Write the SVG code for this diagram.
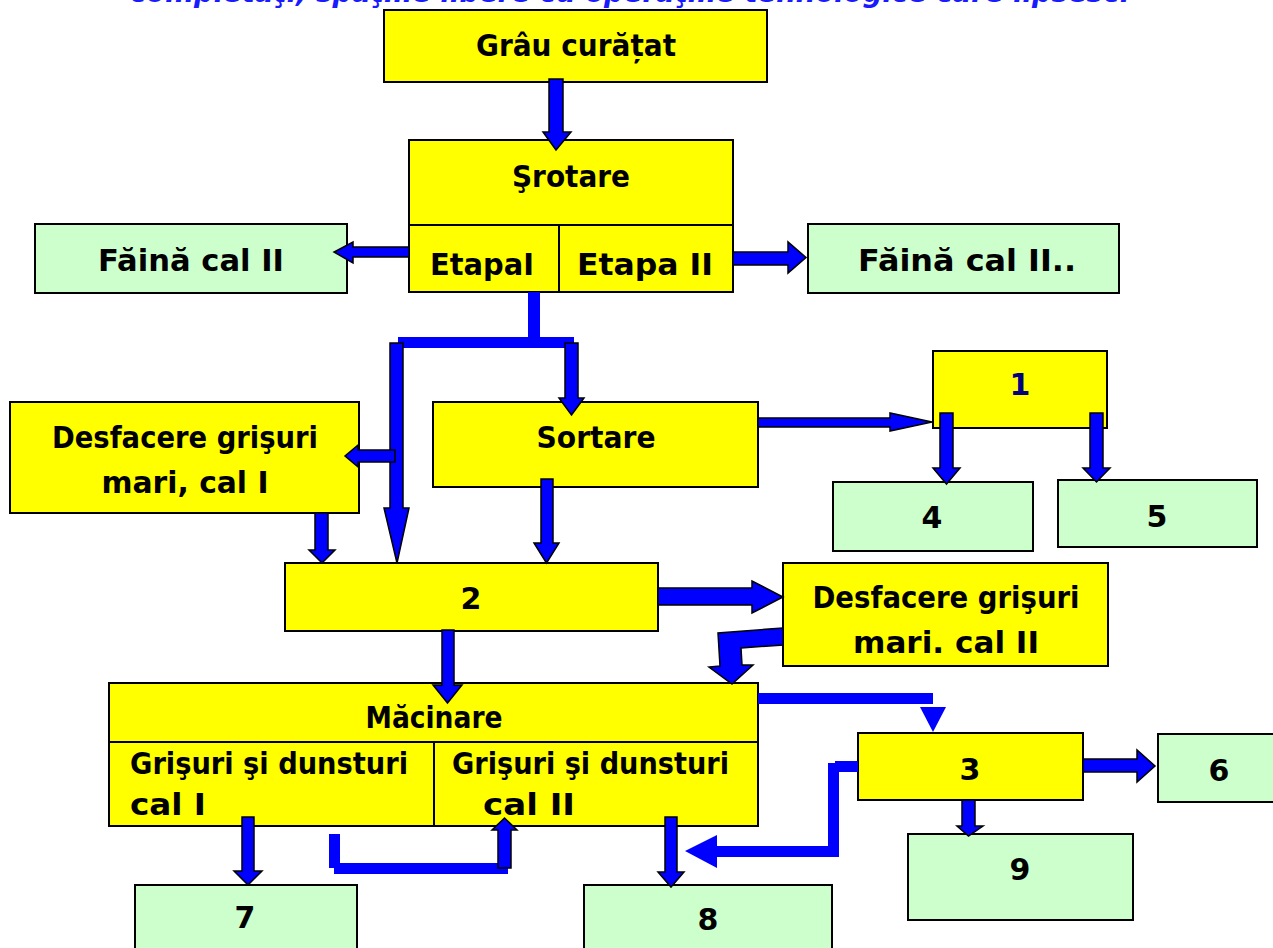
<svg xmlns="http://www.w3.org/2000/svg" width="1273" height="948" viewBox="0 0 1273 948">
  <style>
    .proc { fill: #FFFF00; stroke: #000; stroke-width: 2; }
    .prod { fill: #CCFFCC; stroke: #000; stroke-width: 2; }
    .div { stroke: #000; stroke-width: 2; fill: none; }
    .lbl { font-family: "Comic Sans MS", "DejaVu Sans", sans-serif; font-weight: bold; font-size: 30px; fill: #000; }
    .mid { text-anchor: middle; }
    .arr { fill: #0000FF; stroke: #000; stroke-width: 1.5; stroke-linejoin: miter; }
    .bar { fill: #0000FF; stroke: none; }
    .head { font-family: "Comic Sans MS", "DejaVu Sans", sans-serif; font-weight: bold; font-style: italic; font-size: 28px; fill: #1A1AFF; }
  </style>

  <rect width="1273" height="948" fill="#FFFFFF"/>

  <!-- heading line, mostly above the page edge -->
  <text class="head" x="130" y="2" textLength="1000" lengthAdjust="spacingAndGlyphs">completaţi, spaţiile libere cu operaţiile tehnologice care lipsesc.</text>

  <g id="grau">
    <rect class="proc" x="384" y="10" width="383" height="72"/>
    <text class="lbl mid" x="576" y="56" textLength="200" lengthAdjust="spacingAndGlyphs">Grâu curățat</text>
  </g>

  <g id="srotare">
    <rect class="proc" x="409" y="140" width="324" height="152"/>
    <line class="div" x1="409" y1="225" x2="733" y2="225"/>
    <line class="div" x1="559" y1="225" x2="559" y2="292"/>
    <text class="lbl mid" x="571" y="187" textLength="118" lengthAdjust="spacingAndGlyphs">Şrotare</text>
    <text class="lbl mid" x="482" y="275" textLength="104" lengthAdjust="spacingAndGlyphs">EtapaI</text>
    <text class="lbl mid" x="645" y="275" textLength="136" lengthAdjust="spacingAndGlyphs">Etapa II</text>
  </g>

  <g id="faina-left">
    <rect class="prod" x="35" y="224" width="312" height="69"/>
    <text class="lbl mid" x="191" y="271" textLength="186" lengthAdjust="spacingAndGlyphs">Făină cal II</text>
  </g>

  <g id="faina-right">
    <rect class="prod" x="808" y="224" width="311" height="69"/>
    <text class="lbl mid" x="967" y="271" textLength="218" lengthAdjust="spacingAndGlyphs">Făină cal II..</text>
  </g>

  <g id="desfacere-1">
    <rect class="proc" x="10" y="402" width="349" height="111"/>
    <text class="lbl mid" x="185" y="448" textLength="266" lengthAdjust="spacingAndGlyphs">Desfacere grişuri</text>
    <text class="lbl mid" x="185" y="493" textLength="167" lengthAdjust="spacingAndGlyphs">mari, cal I</text>
  </g>

  <g id="sortare">
    <rect class="proc" x="433" y="402" width="325" height="85"/>
    <text class="lbl mid" x="596" y="448" textLength="119" lengthAdjust="spacingAndGlyphs">Sortare</text>
  </g>

  <g id="n1">
    <rect class="proc" x="933" y="351" width="174" height="77"/>
    <text class="lbl mid" x="1020" y="395" style="fill:#000080">1</text>
  </g>

  <g id="n4">
    <rect class="prod" x="833" y="482" width="200" height="69"/>
    <text class="lbl mid" x="932" y="528">4</text>
  </g>

  <g id="n5">
    <rect class="prod" x="1058" y="480" width="199" height="67"/>
    <text class="lbl mid" x="1157" y="527">5</text>
  </g>

  <g id="n2">
    <rect class="proc" x="285" y="563" width="373" height="68"/>
    <text class="lbl mid" x="471" y="609">2</text>
  </g>

  <g id="desfacere-2">
    <rect class="proc" x="783" y="563" width="325" height="103"/>
    <text class="lbl mid" x="946" y="608" textLength="267" lengthAdjust="spacingAndGlyphs">Desfacere grişuri</text>
    <text class="lbl mid" x="946" y="653" textLength="186" lengthAdjust="spacingAndGlyphs">mari. cal II</text>
  </g>

  <g id="macinare">
    <rect class="proc" x="109" y="683" width="649" height="143"/>
    <line class="div" x1="109" y1="742" x2="758" y2="742"/>
    <line class="div" x1="434" y1="742" x2="434" y2="826"/>
    <text class="lbl mid" x="434" y="728" textLength="137" lengthAdjust="spacingAndGlyphs">Măcinare</text>
    <text class="lbl" x="130" y="774" textLength="278" lengthAdjust="spacingAndGlyphs">Grişuri şi dunsturi</text>
    <text class="lbl" x="130" y="815" textLength="76" lengthAdjust="spacingAndGlyphs">cal I</text>
    <text class="lbl" x="452" y="774" textLength="277" lengthAdjust="spacingAndGlyphs">Grişuri şi dunsturi</text>
    <text class="lbl" x="483" y="815" textLength="92" lengthAdjust="spacingAndGlyphs">cal II</text>
  </g>

  <g id="n3">
    <rect class="proc" x="858" y="733" width="225" height="67"/>
    <text class="lbl mid" x="970" y="780">3</text>
  </g>

  <g id="n6">
    <rect class="prod" x="1158" y="734" width="125" height="68"/>
    <text class="lbl mid" x="1219" y="781">6</text>
  </g>

  <g id="n9">
    <rect class="prod" x="908" y="834" width="225" height="86"/>
    <text class="lbl mid" x="1020" y="880">9</text>
  </g>

  <g id="n7">
    <rect class="prod" x="135" y="885" width="222" height="70"/>
    <text class="lbl mid" x="245" y="928">7</text>
  </g>

  <g id="n8">
    <rect class="prod" x="584" y="885" width="248" height="70"/>
    <text class="lbl mid" x="708" y="930">8</text>
  </g>

  <!-- connectors, drawn over the boxes -->
  <g id="connectors">
    <!-- Grâu curățat -> Șrotare -->
    <polygon class="arr" points="549,79 563,79 563,132 571,132 556,150 543,132 549,132"/>
    <!-- Șrotare -> Făină cal II (left) -->
    <polygon class="arr" points="409,247 409,257 353,257 353,263 334,252 353,242 353,247"/>
    <!-- Șrotare -> Făină cal II.. (right) -->
    <polygon class="arr" points="733,252 788,252 788,242 806,257.5 788,273 788,265 733,265"/>
    <!-- branch below Etapa I -->
    <rect class="bar" x="528" y="292" width="12" height="52"/>
    <rect class="bar" x="398" y="337" width="176" height="11"/>
    <!-- long drop to box 2 -->
    <polygon class="arr" points="390,343 403,343 403,508 409,508 397,563 384,508 390,508"/>
    <!-- side branch to Desfacere grişuri mari, cal I -->
    <polygon class="arr" points="395,450 395,462 358,462 358,467 345,456 358,445 358,450"/>
    <!-- drop to Sortare -->
    <polygon class="arr" points="565,343 578,343 578,398 584,398 571.5,415 559,398 565,398"/>
    <!-- Desfacere grişuri mari, cal I -> 2 -->
    <polygon class="arr" points="315,513 328,513 328,550 335,550 322,563 309,550 315,550"/>
    <!-- Sortare -> 2 -->
    <polygon class="arr" points="541,479 553,479 553,543 559,543 546.5,563 534,543 541,543"/>
    <!-- Sortare -> 1 -->
    <polygon class="arr" points="758,418 890,418 890,413 932,422 890,431 890,427 758,427"/>
    <!-- 1 -> 4 -->
    <polygon class="arr" points="940,413 953,413 953,468 960,468 946.5,484 933,468 940,468"/>
    <!-- 1 -> 5 -->
    <polygon class="arr" points="1090,413 1103,413 1103,468 1110,468 1096.5,482 1083,468 1090,468"/>
    <!-- 2 -> Desfacere grişuri mari. cal II -->
    <polygon class="arr" points="658,588 752,588 752,581 783,597 752,613 752,605 658,605"/>
    <!-- Desfacere grişuri mari. cal II -> Măcinare (bent) -->
    <polygon class="arr" points="783,628 718,633 720,666 709,667 732,684 753,665 742,665 741,648 783,645"/>
    <!-- 2 -> Măcinare -->
    <polygon class="arr" points="442,630 454,630 454,685 462,685 447.5,703 433,685 442,685"/>
    <!-- Măcinare -> 3 -->
    <rect class="bar" x="758" y="693" width="175" height="11"/>
    <polygon class="bar" points="920,707 946,707 933,732"/>
    <!-- 3 -> 6 -->
    <polygon class="arr" points="1083,759 1137,759 1137,750 1155,766 1137,782 1137,772 1083,772"/>
    <!-- 3 -> 9 -->
    <polygon class="arr" points="962,800 975,800 975,826 983,826 968.5,836 957,826 962,826"/>
    <!-- 3 -> 8 -->
    <polygon class="bar" points="858,761 858,772 839,772 839,857 717,857 717,868 685,851 717,835 717,846 828,846 828,763 835,763 835,761"/>
    <!-- Măcinare -> 7 -->
    <polygon class="arr" points="242,817 254,817 254,871 262,871 248,885 234,871 242,871"/>
    <!-- Măcinare -> 8 -->
    <polygon class="arr" points="665,817 677,817 677,872 684,872 671,887 658,872 665,872"/>
    <!-- loop from cal I to cal II -->
    <rect class="bar" x="329" y="834" width="11" height="34"/>
    <rect class="bar" x="334" y="863" width="174" height="11"/>
    <polygon class="arr" points="498,868 511,868 511,830 517,830 504.5,818 492,830 498,830"/>
  </g>
</svg>
